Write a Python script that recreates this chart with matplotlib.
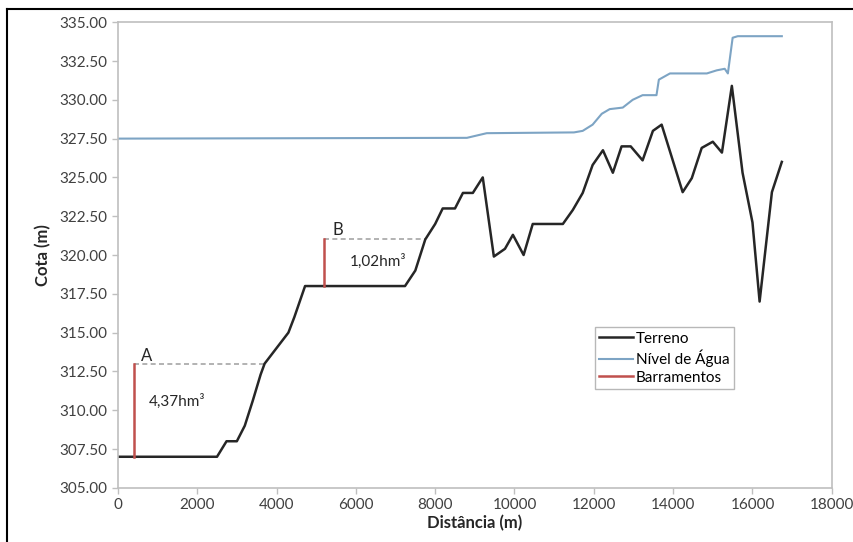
import numpy as np
import matplotlib.pyplot as plt
from matplotlib.lines import Line2D

# Terreno (distância em m, cota em m)
terreno_x = [0, 2500, 2740, 3000, 3200, 3400, 3600, 3700, 4000, 4300, 4450, 4720,
             7240, 7500, 7750, 8000, 8190, 8500, 8700, 8950, 9200, 9480, 9760, 9960,
             10230, 10460, 11220, 11470, 11720, 11970, 12230, 12480, 12700, 12930,
             13230, 13490, 13710, 14240, 14470, 14720, 15000, 15230, 15480, 15750,
             16000, 16180, 16490, 16740]
terreno_y = [307, 307, 308, 308, 309, 310.6, 312.3, 313, 314, 315, 316, 318,
             318, 319, 321, 322, 323, 323, 324, 324, 325, 319.9, 320.4, 321.3,
             320.0, 322.0, 322.0, 322.9, 324.0, 325.8, 326.75, 325.3, 327.0, 327.0,
             326.1, 328.0, 328.4, 324.05, 324.95, 326.9, 327.3, 326.6, 330.9, 325.3,
             322.1, 317.0, 324.05, 326.0]

# Nível de Água
agua_x = [0, 8800, 9300, 11500, 11720, 11970, 12200, 12400, 12730, 12980, 13230,
          13580, 13640, 13920, 14850, 15100, 15300, 15380, 15500, 15630, 16740]
agua_y = [327.5, 327.55, 327.85, 327.9, 328.0, 328.4, 329.1, 329.4, 329.5, 330.0, 330.3,
          330.3, 331.3, 331.7, 331.7, 331.9, 332.0, 331.7, 334.0, 334.1, 334.1]

# Barramentos: posição, cota da base, cota do topo, fim da linha tracejada
barr_nome = ['A', 'B']
barr_x = [400, 5200]
barr_base = [307, 318]
barr_topo = [313, 321]
barr_fim = [3700, 7750]
barr_vol = ['4,37hm³', '1,02hm³']

plt.rcParams['font.family'] = ['Lato', 'DejaVu Sans']

fig = plt.figure(figsize=(8.54, 5.42), dpi=100)
ax = fig.add_axes([0.138, 0.100, 0.836, 0.859])

ax.plot(terreno_x, terreno_y, color='#262626', linewidth=1.8, label='Terreno')
ax.plot(agua_x, agua_y, color='#7DA4C4', linewidth=1.5, label='Nível de Água')

for i, nome in enumerate(barr_nome):
    ax.plot([barr_x[i], barr_x[i]], [barr_base[i], barr_topo[i]], color='#C0504D',
            linewidth=1.8, label='Barramentos' if i == 0 else None)
    ax.plot([barr_x[i], barr_fim[i]], [barr_topo[i], barr_topo[i]], color='#A6A6A6',
            linewidth=1.2, linestyle=(0, (3, 2)), zorder=1)

ax.text(730, 313.5, 'A', fontsize=12, ha='center', va='center', color='#262626')
ax.text(5550, 321.6, 'B', fontsize=12, ha='center', va='center', color='#262626')
ax.text(1490, 310.6, barr_vol[0], fontsize=11, ha='center', va='center', color='#262626')
ax.text(6560, 319.6, barr_vol[1], fontsize=11, ha='center', va='center', color='#262626')

ax.set_xlim(0, 18000)
ax.set_ylim(305, 335)
ax.set_xticks(np.arange(0, 18001, 2000))
ax.set_yticks(np.arange(305, 335.01, 2.5))
ax.set_yticklabels([f'{v:.2f}' for v in np.arange(305, 335.01, 2.5)])

for s in ax.spines.values():
    s.set_color('#BFBFBF')
    s.set_linewidth(1.2)
ax.tick_params(colors='#BFBFBF', labelcolor='#404040', labelsize=11, length=4, width=1)

ax.set_xlabel('Distância (m)', fontsize=12, fontweight='bold', color='#262626', labelpad=2)
ax.set_ylabel('Cota (m)', fontsize=12, fontweight='bold', color='#262626', labelpad=6)

leg = ax.legend(loc='lower left', bbox_to_anchor=(0.657, 0.195), fontsize=11,
                frameon=True, fancybox=False, borderpad=0.3, handlelength=2.2,
                handletextpad=0.2, labelspacing=0.25)
leg.get_frame().set_edgecolor('#A6A6A6')
leg.get_frame().set_linewidth(1.0)

# moldura da captura (topo e esquerda)
fig.add_artist(Line2D([0.008, 1.0], [0.983, 0.983], color='black', linewidth=1.5,
                      transform=fig.transFigure))
fig.add_artist(Line2D([0.008, 0.008], [0.0, 0.983], color='black', linewidth=1.5,
                      transform=fig.transFigure))

fig.savefig('out.png', dpi=100)
